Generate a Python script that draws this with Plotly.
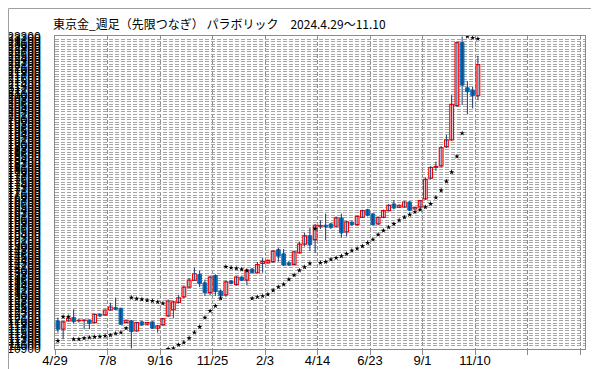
import plotly.graph_objects as go

# ---- data (weekly OHLC, Tokyo gold, continuous deferred contract) ----
weeks = list(range(81))
opens = [11996, 11666, 11996, 12128, 12000, 12010, 12035, 11930, 12260, 12233,
         12431, 12524, 12497, 11930, 11996, 11600, 11956, 11864, 11956, 11705,
         11837, 12194, 12440, 12730, 12950, 13343, 13610, 13845, 13510, 13120,
         13800, 13185, 13030, 13580, 13450, 13740, 13620, 14056, 13910, 14280,
         14300, 14350, 14830, 14660, 14300, 14240, 14700, 15050, 15380, 15230,
         15760, 15798, 15850, 15758, 16088, 15534, 15917, 15824, 16115, 16418,
         16247, 15850, 16115, 16379, 16643, 16511, 16524, 16722, 16445, 16524,
         16850, 17672, 18100, 18160, 18926, 19190, 20550, 23057, 21262, 21170,
         20945]
highs = [12128, 11990, 12180, 12458, 12088, 12060, 12050, 12280, 12290, 12450,
         12722, 12920, 12520, 12050, 12030, 11960, 12000, 11960, 11980, 11830,
         12110, 12850, 12800, 13030, 13380, 13700, 14110, 14000, 13640, 13800,
         13850, 13250, 13600, 13620, 13780, 13760, 14050, 14100, 14340, 14500,
         14440, 14800, 14900, 14850, 14380, 14790, 15150, 15500, 15690, 15850,
         16000, 16260, 15900, 16150, 16260, 15960, 15980, 16180, 16420, 16450,
         16280, 16140, 16420, 16640, 16800, 16620, 16760, 16760, 16530, 16800,
         17700, 18150, 18332, 18950, 19388, 20970, 23100, 23300, 21526, 21302,
         22529]
lows = [11534, 11270, 11970, 11890, 11930, 11666, 11666, 11900, 12150, 12200,
        12400, 12430, 11840, 11900, 10900, 11570, 11800, 11840, 11680, 11534,
        11800, 12150, 12100, 12700, 12900, 13300, 13580, 13340, 12990, 13000,
        12990, 12900, 12950, 13450, 13400, 13580, 13410, 13880, 13880, 13910,
        14280, 14300, 14350, 14180, 14180, 14190, 14680, 14950, 14770, 14700,
        15650, 15200, 15650, 15700, 15300, 15350, 15780, 15780, 16090, 16150,
        15780, 15800, 16080, 16350, 16430, 16480, 16500, 16360, 16420, 16500,
        16800, 17620, 17962, 18100, 18880, 19150, 20500, 20576, 20206, 20444,
        20774]
closes = [11666, 11956, 12101, 11969, 12022, 12030, 11903, 12260, 12194, 12431,
          12550, 12458, 11864, 12022, 11573, 11930, 11837, 11930, 11705, 11798,
          12088, 12788, 12755, 12910, 13340, 13620, 13870, 13477, 13120, 13740,
          13160, 12990, 13550, 13490, 13740, 13610, 14000, 13910, 14230, 14360,
          14400, 14770, 14570, 14215, 14220, 14740, 15050, 15380, 15032, 15798,
          15790, 15732, 15718, 16088, 15494, 15930, 15824, 16154, 16379, 16194,
          15824, 16115, 16379, 16590, 16484, 16590, 16722, 16392, 16511, 16775,
          17620, 18094, 18134, 18886, 19190, 20602, 23057, 21367, 21104, 20945,
          22186]
# parabolic SAR values
sar = [11204, 12160, 12160, 11270, 11270, 11309, 11336, 11362, 11375, 11402,
       11428, 11494, 11534, 11705, 12920, 12880, 12853, 12814, 12788, 12748,
       12695, 10885, 10905, 11045, 11138, 11309, 11534, 11758, 12128, 12392,
       12590, 12893, 14147, 14108, 14081, 14042, 14002, 12893, 12946, 12986,
       13052, 13210, 13342, 13447, 13645, 13817, 14002, 14134, 14280, 15664,
       14306, 14345, 14438, 14504, 14570, 14662, 14794, 14873, 14966, 15098,
       15230, 15428, 15586, 15718, 15850, 15996, 16114, 16220, 16325, 16418,
       16520, 16650, 16900, 17184, 17541, 17909, 18531, 19454, 23300, 23250,
       23210]
x_tick_labels = ["4/29", "7/8", "9/16", "11/25", "2/3", "4/14", "6/23", "9/1",
                 "11/10", "", ""]
y_tick_values = list(range(10900, 23400, 100))
title_text = "東京金_週足（先限つなぎ） パラボリック　2024.4.29～11.10"

# ---- build figure ----
fig = go.Figure()

wx, wy = [], []
for w, h, l in zip(weeks, highs, lows):
    wx += [w, w, None]
    wy += [l, h, None]
fig.add_trace(go.Scatter(x=wx, y=wy, mode="lines",
                         line=dict(color="#1f3a6e", width=1),
                         hoverinfo="skip", showlegend=False))

up_x, up_b, up_h, dn_x, dn_b, dn_h = [], [], [], [], [], []
for w, o, c in zip(weeks, opens, closes):
    if c >= o:
        up_x.append(w); up_b.append(o); up_h.append(c - o)
    else:
        dn_x.append(w); dn_b.append(c); dn_h.append(o - c)

fig.add_trace(go.Bar(x=dn_x, y=dn_h, base=dn_b, width=0.7,
                     marker=dict(color="#0070c0", line=dict(color="#0070c0", width=1)),
                     showlegend=False))
fig.add_trace(go.Bar(x=up_x, y=up_h, base=up_b, width=0.7,
                     marker=dict(color="white", line=dict(color="#ff0000", width=1.2)),
                     showlegend=False))

fig.add_trace(go.Scatter(x=weeks, y=sar, mode="markers",
                         marker=dict(symbol="star", size=4, color="black",
                                     line=dict(width=0)),
                         showlegend=False))

tick_pos = [k * 10 - 0.55 for k in range(len(x_tick_labels))]

fig.update_layout(
    width=599, height=369,
    margin=dict(l=47, r=22, t=28, b=28, autoexpand=False),
    paper_bgcolor="white", plot_bgcolor="white",
    barmode="overlay",
    showlegend=False,
    font=dict(family="Liberation Sans, Arial, sans-serif", color="black"),
    xaxis=dict(range=[-0.55, 100.4], tickmode="array", tickvals=tick_pos,
               ticktext=x_tick_labels, showgrid=True, gridcolor="#8c8c8c",
               griddash="4px,2px", gridwidth=1, zeroline=False, automargin=False,
               showline=True, mirror=True, linecolor="#8c8c8c", linewidth=1,
               ticks="outside", ticklen=5, tickcolor="#8c8c8c",
               ticklabelstandoff=-6,
               tickfont=dict(size=13, color="black")),
    yaxis=dict(range=[10880, 23320], tickmode="array", tickvals=y_tick_values,
               ticktext=[str(v) for v in y_tick_values], automargin=False,
               showgrid=True, gridcolor="#a6a6a6", griddash="4px,2px", gridwidth=1,
               zeroline=False, showline=True, mirror=True, linecolor="#8c8c8c",
               linewidth=1, ticks="", ticklabelstandoff=11,
               tickfont=dict(size=12, color="black")),
    annotations=[dict(text=title_text, xref="paper", yref="paper",
                      x=-4 / 530, y=1 + 13 / 313, xanchor="left", yanchor="middle",
                      showarrow=False,
                      font=dict(family="Noto Sans CJK JP", size=12, color="black"))],
    shapes=[dict(type="rect", xref="paper", yref="paper",
                 x0=(0.5 - 47) / 530, x1=(598.5 - 47) / 530,
                 y0=-27.5 / 313, y1=340.5 / 313,
                 line=dict(color="#a0a0a0", width=1), fillcolor="rgba(0,0,0,0)",
                 layer="above")],
)

fig.write_html("out.html")
